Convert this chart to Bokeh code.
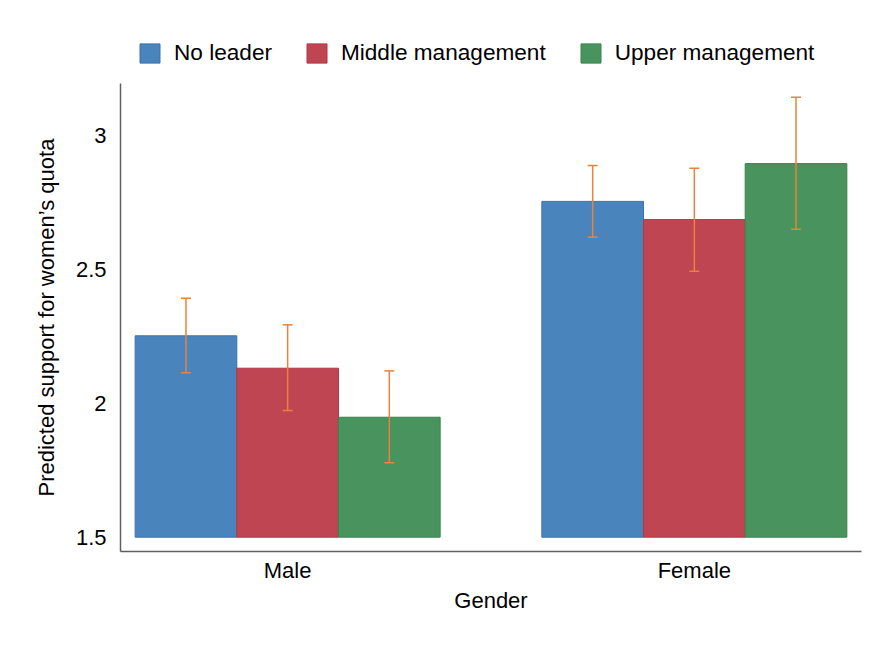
from bokeh.plotting import figure
from bokeh.models import (ColumnDataSource, FactorRange, Range1d, Legend, LegendItem,
                          Whisker, TeeHead, FixedTicker, CustomJSTickFormatter, Title)
from bokeh.transform import dodge
from bokeh.embed import file_html
from bokeh.resources import INLINE

# ---- data ----
genders = ["Male", "Female"]
levels = ["No leader", "Middle management", "Upper management"]

no_leader = [2.252, 2.754]
no_leader_lo = [2.114, 2.620]
no_leader_hi = [2.392, 2.888]

middle_mgmt = [2.131, 2.686]
middle_mgmt_lo = [1.973, 2.493]
middle_mgmt_hi = [2.293, 2.878]

upper_mgmt = [1.948, 2.895]
upper_mgmt_lo = [1.778, 2.650]
upper_mgmt_hi = [2.121, 3.143]

y_ticks = [1.5, 2, 2.5, 3]
y_title = "Predicted support for women\u2019s quota"
x_title = "Gender"

colors = ["#4A84BC", "#C04553", "#49935E"]
edge_colors = ["#3B71B2", "#B73347", "#3A8450"]
err_color = "#E8823C"
FONT = "Liberation Sans"
FS = "22px"
FS_LEG = "22.6px"

series = [
    (no_leader, no_leader_lo, no_leader_hi),
    (middle_mgmt, middle_mgmt_lo, middle_mgmt_hi),
    (upper_mgmt, upper_mgmt_lo, upper_mgmt_hi),
]

W, H = 867, 629
ML, MR, MT, MB = 120, 6, 30, 78
y_lo, y_axis_top = 1.4466, 3.194
y_hi = 1.5 + (536.7 - MT) / 267.8

x_range = FactorRange(factors=genders, factor_padding=1/3,
                      range_padding=0.048, range_padding_units="absolute")

p = figure(width=W, height=H, x_range=x_range, y_range=Range1d(y_lo, y_hi),
           output_backend="svg", toolbar_location=None,
           min_border_left=ML, min_border_right=MR, min_border_top=MT, min_border_bottom=MB)

p.outline_line_color = None
p.xgrid.visible = False
p.ygrid.visible = False
p.background_fill_color = "white"
p.border_fill_color = "white"

bw = 1/3
items = []
for i, (lvl, (vals, lo, hi)) in enumerate(zip(levels, series)):
    src = ColumnDataSource(dict(gender=genders, top=vals, lo=lo, hi=hi))
    off = (i - 1) * bw
    r = p.vbar(x=dodge("gender", off, range=x_range), top="top", bottom=1.5, width=bw,
               source=src, fill_color=colors[i], line_color=edge_colors[i], line_width=1)
    items.append(LegendItem(label=lvl, renderers=[r]))
    w = Whisker(base=dodge("gender", off, range=x_range), upper="hi", lower="lo", source=src,
                line_color=err_color, line_width=1.5, level="overlay",
                upper_head=TeeHead(size=10, line_color=err_color, line_width=1.5),
                lower_head=TeeHead(size=10, line_color=err_color, line_width=1.5))
    p.add_layout(w)

legend = Legend(items=items, orientation="horizontal", location=(17, 551 - 66),
                glyph_width=25, glyph_height=24, label_standoff=12, spacing=32,
                padding=0, margin=0, border_line_color=None, background_fill_alpha=0,
                label_text_font=FONT, label_text_font_size=FS_LEG, label_text_color="black")
p.add_layout(legend, "center")

# axes
for ax in (p.xaxis[0], p.yaxis[0]):
    ax.axis_line_color = "#5F5F5F"
    ax.axis_line_width = 1.5
    ax.major_tick_line_color = None
    ax.minor_tick_line_color = None
    ax.major_tick_out = 0
    ax.major_tick_in = 0
    ax.minor_tick_out = 0
    ax.major_label_text_font = FONT
    ax.major_label_text_font_size = FS
    ax.major_label_text_color = "black"
    ax.axis_label_text_font = FONT
    ax.axis_label_text_font_size = FS
    ax.axis_label_text_font_style = "normal"
    ax.axis_label_text_color = "black"

p.yaxis.ticker = FixedTicker(ticks=y_ticks)
p.yaxis.bounds = (y_lo, y_axis_top)
p.yaxis.formatter = CustomJSTickFormatter(code="return String(tick)")
p.yaxis.major_label_standoff = 14

# y-axis title, positioned along the visible axis extent
ytitle = Title(text=y_title, align="left", offset=55, standoff=28,
               text_font=FONT, text_font_size=FS, text_font_style="normal",
               text_color="black")
p.add_layout(ytitle, "left")

p.xaxis.major_label_standoff = 6
p.xaxis.axis_label = x_title
p.xaxis.axis_label_standoff = 2

open("out.html", "w").write(file_html(p, INLINE))
